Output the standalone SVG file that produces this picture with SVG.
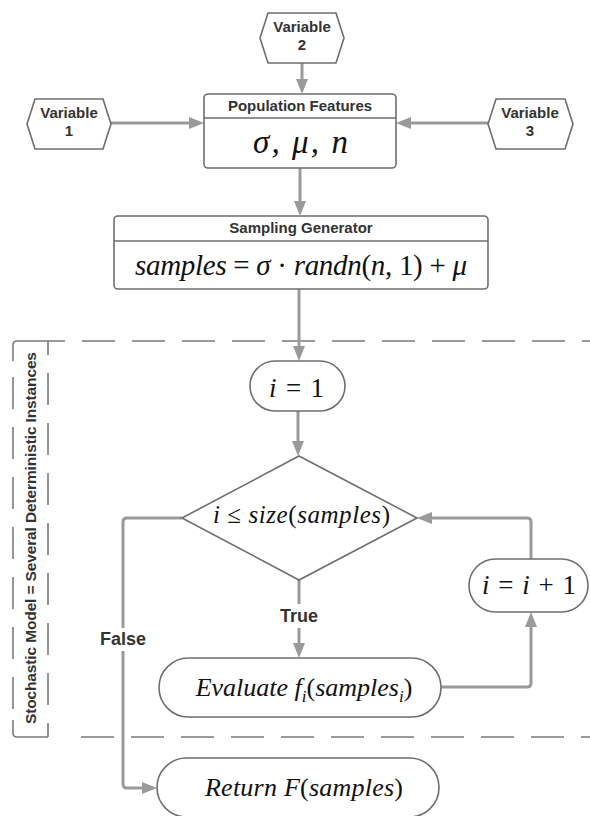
<svg xmlns="http://www.w3.org/2000/svg" width="590" height="816" viewBox="0 0 590 816">
<style>
.node{fill:#fff;stroke:#6e6e6e;stroke-width:1.6}
.sep{stroke:#6e6e6e;stroke-width:1.6}
.lbl{font-family:"Liberation Sans",Arial,sans-serif;font-weight:bold;fill:#333;text-anchor:middle}
.math{font-family:"Liberation Serif","Times New Roman",serif;font-style:italic;fill:#111;text-anchor:middle}
.up{font-style:normal}
.con{fill:none;stroke:#9a9a9a;stroke-width:3;marker-end:url(#ah)}
.dash{fill:none;stroke:#7a7a7a;stroke-width:1.6}
</style>
<defs>
<marker id="ah" markerWidth="15" markerHeight="12" refX="7" refY="6" orient="auto" markerUnits="userSpaceOnUse">
<path d="M0,0 L15,6 L0,12 z" fill="#9a9a9a"/>
</marker>
</defs>
<rect width="590" height="816" fill="#fff"/>

<g id="container">
<path class="dash" d="M13,361 V345 Q13,341 17,341 H65"/>
<path class="dash" d="M82,341 H600" stroke-dasharray="33 17"/>
<path class="dash" d="M13,377 V711" stroke-dasharray="32 18"/>
<path class="dash" d="M13,720 V733 Q13,737 17,737 H48"/>
<path class="dash" d="M81,737 H600" stroke-dasharray="33 17"/>
<path class="dash" d="M48,341 V737" stroke-dasharray="32 18" stroke-dashoffset="18"/>
<text class="lbl" font-size="15.5" transform="translate(36,538) rotate(-90)" textLength="372">Stochastic Model = Several Deterministic Instances</text>
</g>

<g id="connectors">
<path class="con" d="M302,63 V86"/>
<path class="con" d="M111,123 H196"/>
<path class="con" d="M488,123 H404"/>
<path class="con" d="M300,168 V208"/>
<path class="con" d="M299,289 V353"/>
<path class="con" d="M298,411 V448"/>
<path class="con" d="M299,580 V650"/>
<path class="con" d="M441,687 H527 Q531,687 531,683 V620"/>
<path class="con" d="M531,559 V522 Q531,518 527,518 H425"/>
<path class="con" d="M182,518 H127 Q123,518 123,522 V784 Q123,788 127,788 H149"/>
<rect x="278" y="604" width="42" height="24" fill="#fff"/>
<text class="lbl" font-size="18" x="299" y="622">True</text>
<rect x="97" y="628" width="52" height="23" fill="#fff"/>
<text class="lbl" font-size="18" x="123" y="645">False</text>
</g>

<g id="var2">
<polygon class="node" points="268,13 336,13 344,38 336,63 268,63 260,38"/>
<text class="lbl" font-size="15" x="302" y="32">Variable</text>
<text class="lbl" font-size="15" x="302" y="50">2</text>
</g>
<g id="var1">
<polygon class="node" points="35,99 103,99 111,124 103,149 35,149 27,124"/>
<text class="lbl" font-size="15" x="69" y="118">Variable</text>
<text class="lbl" font-size="15" x="69" y="136">1</text>
</g>
<g id="var3">
<polygon class="node" points="496,99 565,99 573,124 565,149 496,149 488,124"/>
<text class="lbl" font-size="15" x="530" y="118">Variable</text>
<text class="lbl" font-size="15" x="530" y="136">3</text>
</g>

<g id="population">
<rect class="node" x="204" y="94" width="192" height="74" rx="4"/>
<line class="sep" x1="204" y1="118" x2="396" y2="118"/>
<text class="lbl" font-size="15" x="300" y="111">Population Features</text>
<text class="math" font-size="33" x="300.5" y="153" textLength="95">σ,  μ,  n</text>
</g>

<g id="sampling">
<rect class="node" x="114" y="216" width="374" height="73" rx="4"/>
<line class="sep" x1="114" y1="241" x2="488" y2="241"/>
<text class="lbl" font-size="15" x="301" y="233">Sampling Generator</text>
<text class="math" font-size="29" x="301" y="275" textLength="332">samples <tspan class="up">= </tspan>σ <tspan class="up">· </tspan>randn<tspan class="up">(</tspan>n<tspan class="up">, 1) + </tspan>μ</text>
</g>

<g id="init">
<rect class="node" x="250" y="361" width="95" height="50" rx="25"/>
<text class="math" font-size="27" x="296.5" y="397" textLength="55">i <tspan class="up">= 1</tspan></text>
</g>

<g id="decision">
<polygon class="node" points="299,456 417,518 299,580 182,518"/>
<text class="math" font-size="25" x="301.5" y="523" textLength="177">i <tspan class="up">≤ </tspan>size<tspan class="up">(</tspan>samples<tspan class="up">)</tspan></text>
</g>

<g id="increment">
<rect class="node" x="469" y="559" width="119" height="53" rx="26.5"/>
<text class="math" font-size="27" x="529" y="594" textLength="94">i <tspan class="up">= </tspan>i <tspan class="up">+ 1</tspan></text>
</g>

<g id="evaluate">
<rect class="node" x="159" y="658" width="282" height="59" rx="29.5"/>
<text class="math" font-size="26" x="304" y="696">Evaluate f<tspan font-size="17" dy="6">i</tspan><tspan class="up" dy="-6">(</tspan>samples<tspan font-size="17" dy="6">i</tspan><tspan class="up" dy="-6">)</tspan></text>
</g>

<g id="return">
<rect class="node" x="157" y="758" width="282" height="59" rx="29.5"/>
<text class="math" font-size="26" x="304" y="796" textLength="198">Return F<tspan class="up">(</tspan>samples<tspan class="up">)</tspan></text>
</g>
</svg>
